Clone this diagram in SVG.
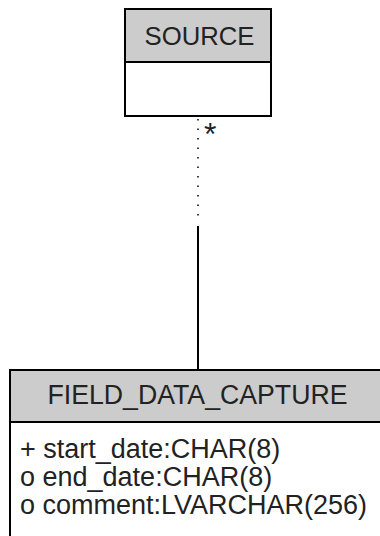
<svg xmlns="http://www.w3.org/2000/svg" width="380" height="536" viewBox="0 0 380 536">
<style>
.hdr{fill:#cccccc;stroke:#000;stroke-width:2}
.body{fill:#fff;stroke:#000;stroke-width:2}
.t{font-family:"Liberation Sans",Arial,sans-serif;font-size:27px;fill:#222}
.c{text-anchor:middle}
</style>
<rect x="0" y="0" width="380" height="536" fill="#fff"/>
<g id="connectors">
<line x1="198" y1="119" x2="198" y2="218" stroke="#000" stroke-width="1.5" stroke-dasharray="1.5 8"/>
<line x1="198" y1="226" x2="198" y2="370" stroke="#000" stroke-width="2"/>
<text class="t" x="204" y="145" style="font-size:32px">*</text>
</g>
<g id="SOURCE">
<rect class="body" x="125" y="9" width="146" height="107"/>
<rect class="hdr" x="125" y="9" width="146" height="53"/>
<text class="t c" x="199.5" y="45" style="font-size:26px" textLength="110" lengthAdjust="spacingAndGlyphs">SOURCE</text>
</g>
<g id="FIELD_DATA_CAPTURE">
<rect class="body" x="10" y="370" width="376" height="180"/>
<rect class="hdr" x="10" y="370" width="376" height="52"/>
<text class="t c" x="197.5" y="404" textLength="300" lengthAdjust="spacingAndGlyphs">FIELD_DATA_CAPTURE</text>
<text class="t" x="20" y="458">+ start_date:CHAR(8)</text>
<text class="t" x="20" y="486">o end_date:CHAR(8)</text>
<text class="t" x="20" y="514">o comment:LVARCHAR(256)</text>
</g>
</svg>
